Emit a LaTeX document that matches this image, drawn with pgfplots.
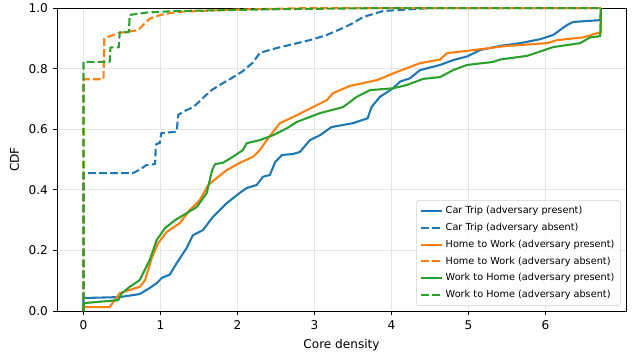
\documentclass[border=0pt]{standalone}
\usepackage{pgfplots}
\pgfplotsset{compat=1.18}
\usepackage{fontspec}
\setmainfont{DejaVu Sans}
\definecolor{tblue}{HTML}{1F77B4}
\definecolor{torange}{HTML}{FF7F0E}
\definecolor{tgreen}{HTML}{2CA02C}
\begin{document}
\begin{tikzpicture}
\begin{axis}[
  scale only axis,
  width=409.7pt, height=218.2pt,
  xmin=-0.344, xmax=7.045, ymin=0, ymax=1,
  xtick={0,1,2,3,4,5,6},
  ytick={0,0.2,0.4,0.6,0.8,1.0},
  yticklabel style={/pgf/number format/.cd,fixed,fixed zerofill,precision=1},
  /pgf/number format/assume math mode=true,
  xtick pos=bottom, ytick pos=left,
  tick align=outside,
  major tick length=3.1pt,
  every tick/.style={black, line width=0.6pt},
  axis line style={line width=0.6pt},
  grid=major,
  grid style={gray!20, line width=0.6pt},
  tick label style={font=\fontsize{8.7}{10.4}\selectfont},
  label style={font=\fontsize{8.7}{10.4}\selectfont},
  xlabel={Core density},
  ylabel={CDF},
  legend cell align=left,
  legend style={at={(0.991,0.0165)}, anchor=south east,
    font=\fontsize{7}{8.4}\selectfont,
    draw=gray!35, rounded corners=2pt, fill=white, fill opacity=0.8, text opacity=1,
    row sep=1.2pt, inner sep=2.5pt},
  legend image code/.code={\draw[#1] (0pt,0pt) -- (15pt,0pt);},
  every axis plot/.append style={line width=1.5pt, line join=round},
  sol/.style={solid},
  dsh/.style={dash pattern=on 5.5pt off 2.4pt},
]
\addplot[tblue, sol] coordinates {(0,0)(0,0.043)(0.47,0.046)(0.73,0.056)(0.86,0.076)(0.95,0.092)(1.02,0.11)(1.12,0.12)(1.21,0.158)(1.34,0.208)(1.42,0.25)(1.55,0.267)(1.68,0.31)(1.86,0.356)(2.03,0.39)(2.12,0.406)(2.25,0.416)(2.33,0.443)(2.42,0.449)(2.49,0.492)(2.58,0.515)(2.72,0.518)(2.81,0.525)(2.94,0.564)(3.07,0.58)(3.22,0.607)(3.5,0.62)(3.69,0.636)(3.74,0.673)(3.85,0.707)(4.02,0.735)(4.11,0.757)(4.24,0.768)(4.37,0.795)(4.63,0.812)(4.8,0.828)(4.98,0.84)(5.15,0.861)(5.41,0.875)(5.67,0.884)(5.93,0.897)(6.1,0.911)(6.28,0.944)(6.36,0.954)(6.71,0.96)(6.72,1.0)};
\addlegendentry{Car Trip (adversary present)}
\addplot[tblue, dsh] coordinates {(0,0)(0,0.455)(0.64,0.455)(0.72,0.465)(0.82,0.482)(0.93,0.485)(0.94,0.55)(0.99,0.555)(1.01,0.587)(1.21,0.592)(1.23,0.647)(1.31,0.66)(1.42,0.672)(1.50,0.69)(1.58,0.71)(1.67,0.73)(1.81,0.752)(1.90,0.765)(2.06,0.79)(2.2,0.82)(2.29,0.852)(2.51,0.868)(2.94,0.894)(3.15,0.91)(3.37,0.934)(3.5,0.95)(3.63,0.97)(3.89,0.99)(4.52,1.0)(6.72,1.0)};
\addlegendentry{Car Trip (adversary absent)}
\addplot[torange, sol] coordinates {(0,0)(0,0.013)(0.34,0.013)(0.47,0.059)(0.73,0.08)(0.8,0.102)(0.89,0.178)(0.97,0.224)(1.08,0.261)(1.25,0.29)(1.38,0.333)(1.51,0.366)(1.62,0.416)(1.73,0.439)(1.86,0.465)(2.03,0.489)(2.2,0.509)(2.29,0.531)(2.38,0.564)(2.55,0.62)(2.72,0.64)(2.98,0.673)(3.16,0.696)(3.24,0.719)(3.46,0.743)(3.81,0.762)(4.07,0.789)(4.37,0.818)(4.63,0.83)(4.72,0.851)(5.06,0.861)(5.5,0.875)(6.02,0.884)(6.15,0.894)(6.49,0.903)(6.67,0.917)(6.72,0.92)(6.72,1.0)};
\addlegendentry{Home to Work (adversary present)}
\addplot[torange, dsh] coordinates {(0,0)(0,0.765)(0.26,0.765)(0.27,0.90)(0.45,0.917)(0.71,0.927)(0.78,0.945)(0.86,0.965)(1.0,0.977)(1.21,0.987)(2.0,0.995)(3.0,1.0)(6.72,1.0)};
\addlegendentry{Home to Work (adversary absent)}
\addplot[tgreen, sol] coordinates {(0,0)(0,0.026)(0.45,0.036)(0.5,0.059)(0.6,0.08)(0.73,0.102)(0.86,0.168)(0.95,0.234)(1.06,0.274)(1.19,0.3)(1.34,0.323)(1.47,0.343)(1.6,0.389)(1.67,0.465)(1.71,0.485)(1.81,0.489)(1.94,0.509)(2.07,0.531)(2.12,0.554)(2.29,0.564)(2.46,0.58)(2.64,0.603)(2.77,0.624)(3.07,0.653)(3.37,0.673)(3.55,0.707)(3.72,0.729)(4.02,0.735)(4.2,0.746)(4.41,0.766)(4.63,0.772)(4.8,0.795)(4.98,0.812)(5.32,0.822)(5.41,0.83)(5.76,0.842)(6.1,0.871)(6.45,0.884)(6.58,0.903)(6.71,0.907)(6.72,1.0)};
\addlegendentry{Work to Home (adversary present)}
\addplot[tgreen, dsh] coordinates {(0,0)(0,0.822)(0.34,0.822)(0.35,0.87)(0.46,0.87)(0.47,0.92)(0.59,0.92)(0.6,0.977)(0.82,0.985)(1.21,0.99)(2.5,0.996)(4,1.0)(6.72,1.0)};
\addlegendentry{Work to Home (adversary absent)}
\end{axis}
\pgfresetboundingbox
\path[use as bounding box] ([xshift=-41.04pt,yshift=-29.52pt]current axis.south west) rectangle ([xshift=4.32pt,yshift=5.76pt]current axis.north east);
\end{tikzpicture}
\end{document}
